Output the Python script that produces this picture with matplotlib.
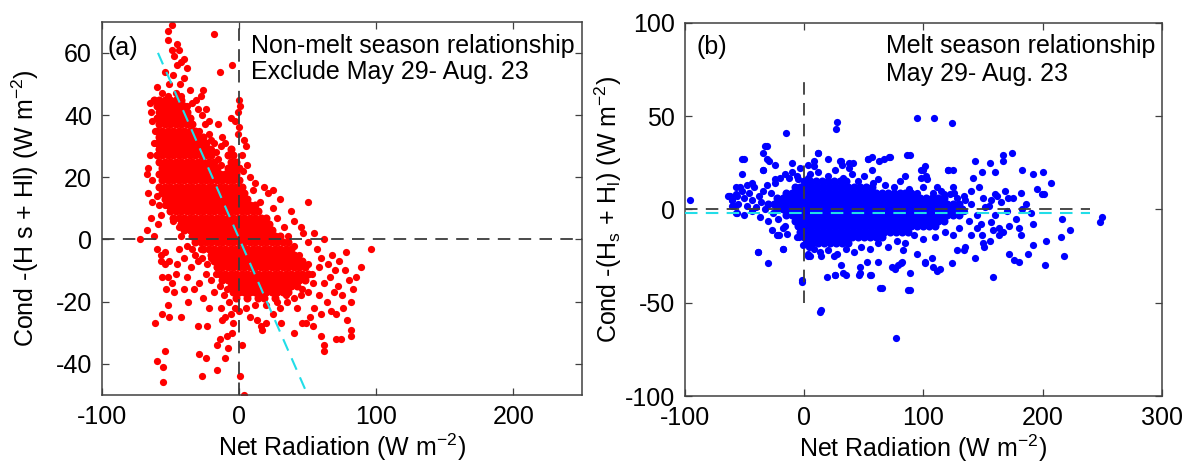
import matplotlib
matplotlib.use('Agg')
import matplotlib.pyplot as plt

plt.rcParams['font.family'] = ['Liberation Sans', 'DejaVu Sans']
plt.rcParams['mathtext.fontset'] = 'custom'
plt.rcParams['mathtext.rm'] = 'Liberation Sans'
plt.rcParams['mathtext.it'] = 'Liberation Sans'
plt.rcParams['lines.scale_dashes'] = False
plt.rcParams['axes.unicode_minus'] = False

# ---------------- panel (a): non-melt season ----------------
# dense core, read row by row (one y per row, x values along the row)
a_core_y = [45, 43, 41, 39, 37, 35, 33, 31, 29, 27, 25, 23, 21, 19, 17, 15, 13,
            11, 9, 7, 5, 3, 1, -1, -3, -5, -7, -9, -11, -13, -15, -17, -19]
a_core_x = [
    [-62, -58, -54, -50, -46, -42],
    [-60, -56, -52, -48, -44, -40],
    [-58, -54, -50, -46, -42, -38],
    [-60, -56, -52, -48, -44, -40, -36],
    [-58, -54, -50, -46, -42, -38, -34],
    [-60, -56, -52, -48, -44, -40, -36, -32],
    [-58, -54, -50, -46, -42, -38, -34, -30, -26],
    [-60, -56, -52, -48, -44, -40, -36, -32, -28, -24],
    [-58, -54, -50, -46, -42, -38, -34, -30, -26, -22, -6],
    [-60, -56, -52, -48, -44, -40, -36, -32, -28, -24, -20, -8, -4],
    [-58, -54, -50, -46, -42, -38, -34, -30, -26, -22, -18, -6, -2],
    [-56, -52, -48, -44, -40, -36, -32, -28, -24, -20, -16, -8, -4, 0],
    [-58, -54, -50, -46, -42, -38, -34, -30, -26, -22, -18, -14, -10, -6, -2],
    [-56, -52, -48, -44, -40, -36, -32, -28, -24, -20, -16, -12, -8, -4, 0],
    [-58, -54, -50, -46, -42, -38, -34, -30, -26, -22, -18, -14, -10, -6, -2, 2],
    [-56, -52, -48, -44, -40, -36, -32, -28, -24, -20, -16, -12, -8, -4, 0, 4],
    [-54, -50, -46, -42, -38, -34, -30, -26, -22, -18, -14, -10, -6, -2, 2, 6],
    [-52, -48, -44, -40, -36, -32, -28, -24, -20, -16, -12, -8, -4, 0, 4, 8, 12],
    [-50, -46, -42, -38, -34, -30, -26, -22, -18, -14, -10, -6, -2, 2, 6, 10, 14],
    [-48, -44, -40, -36, -32, -28, -24, -20, -16, -12, -8, -4, 0, 4, 8, 12, 16, 20],
    [-42, -38, -34, -30, -26, -22, -18, -14, -10, -6, -2, 2, 6, 10, 14, 18, 22],
    [-40, -36, -32, -28, -24, -20, -16, -12, -8, -4, 0, 4, 8, 12, 16, 20, 24],
    [-34, -30, -26, -22, -18, -14, -10, -6, -2, 2, 6, 10, 14, 18, 22, 26, 30],
    [-32, -28, -24, -20, -16, -12, -8, -4, 0, 4, 8, 12, 16, 20, 24, 28, 32, 36],
    [-26, -22, -18, -14, -10, -6, -2, 2, 6, 10, 14, 18, 22, 26, 30, 34, 38],
    [-20, -16, -12, -8, -4, 0, 4, 8, 12, 16, 20, 24, 28, 32, 36, 40],
    [-18, -14, -10, -6, -2, 2, 6, 10, 14, 18, 22, 26, 30, 34, 38, 42, 46],
    [-16, -12, -8, -4, 0, 4, 8, 12, 16, 20, 24, 28, 32, 36, 40, 44, 48],
    [-14, -10, -6, -2, 2, 6, 10, 14, 18, 22, 26, 30, 34, 38, 42, 46, 50],
    [-12, -8, -4, 0, 4, 8, 12, 16, 20, 24, 28, 32, 36, 40, 44, 48],
    [-6, -2, 2, 6, 10, 14, 18, 22, 26, 30, 34, 38, 42],
    [-4, 0, 4, 8, 12, 16, 20, 24, 28, 32, 36],
    [-2, 6, 14, 18, 26],
]

# scattered points around the core
a_out_x = [-49, -52, -18, -52, -45, -49, -44, -47, -40, -42,
           -45, -14, -5, -38, -54, -48, -40, -51, -43, -26,
           -60, -31, -24, -28, -36, -46, -56, -65, -64, -63,
           -61, -62, -65, -66, -67, -63, -66, -60, -58, -63,
           -64, -67, -72, -62, -59, -57, -54, 0, 1, -1,
           -3, 0, -6, -1, -12, -10, -13, 4, 5, 2,
           -29, -33, -18, -20, -15, -22, -38, 18, 25, 21,
           12, 8, 15, 10, 30, 3, 6, -34, -30, -27,
           -25, -22, -20, -17, -15, -13, -52, -48, -56, -42,
           38, 50, 40, 45, 47, 50, 57, 62, 55, 60,
           65, 68, 70, 72, 75, 78, 80, 83, 82, 89,
           96, 76, 71, 67, 64, 58, 62, 55, 52, 79,
           82, 82, 71, 74, 62, 62, 60, 54, 49, 46,
           40, 31, 25, 20, 17, 16, 13, 8, 35, 42,
           45, 30, 2, 1, 4, 25, 28, 33, 36, 40,
           44, 50, 53, 54, 50, 46, 40, 34, 28, 20,
           12, 5, 0, 58, 66, 73, 85, 77, 69, 60,
           -60, -57, -54, -51, -57, -54, -56, -52, -46, -49,
           -53, -47, -40, -37, -52, -56, -61, -51, -42, -30,
           -23, -26, -24, -29, -18, -13, -10, -14, -9, -5,
           -4, -12, -54, -60, -55, -55, -29, -24, -27, -16,
           -16, -10, -8, -44, -40, -35, -32, -28, -20, -16,
           -45, -38, -33, -22, -7, -6, -3, -42, -44, -48,
           -38, -34, -30, -27, -23, -20, -17, -14, -11, -9]
a_out_y = [69, 67, 66, 64, 63, 61, 61, 59, 58, 57,
           56, 54, 56, 55, 54, 53, 52, 50, 50, 48,
           49, 45, 42, 46, 48, 47, 47, 44, 41, 38,
           35, 31, 27, 23, 21, 19, 15, 14, 11, 12,
           7, 3, 0, 1, 5, 8, 11, 45, 43, 41,
           38, 36, 39, 34, 33, 31, 30, 32, 30, 27,
           35, 32, 31, 29, 37, 38, 43, 17, 16, 15,
           18, 20, 12, 16, 13, 22, 24, 44, 42, 40,
           37, 34, 32, 28, 26, 24, 46, 44, 44, 46,
           9, 12, 6, 4, 2, -1, -3, 0, 2, -6,
           -8, -5, -10, -15, -18, -4, -13, -16, -20, -9,
           -3, -22, -24, -23, -20, -18, -14, -22, -25, -26,
           -29, -31, -32, -32, -34, -36, -31, -28, -27, -27,
           -30, -27, -24, -27, -29, -28, -26, -25, -20, -22,
           -18, -22, -34, -44, -50, 10, 7, 4, 1, -2,
           -5, -8, -11, -14, -17, -16, -19, -18, -20, -21,
           -21, -22, -23, -9, -12, -7, -12, -10, -17, -24,
           -3, -5, -4, -7, -7, -8, -12, -12, -11, -14,
           -16, -17, -16, -20, -21, -24, -27, -25, -25, -28,
           -28, -19, -11, -14, -17, -22, -25, -32, -31, -30,
           -27, -26, -36, -39, -41, -46, -37, -38, -44, -42,
           -34, -38, -35, -3, -6, -9, -5, -3, -13, -9,
           -8, -12, -16, -22, -20, -24, -22, 1, 4, 6,
           -2, -3, -7, -6, -8, -6, -11, -15, -18, -16]

a_fit_x = [-59, 50]
a_fit_y = [60, -50]

# ---------------- panel (b): melt season ----------------
b_core_y = [15, 12, 9, 6, 3, 0, -3, -6, -9, -12, -15, -18]
b_core_x = [
    [0, 5, 10, 15, 20, 25, 30, 35],
    [-8, -3, 2, 7, 12, 17, 22, 27, 32, 37, 42, 47, 52, 57],
    [-15, -10, -5, 0, 5, 10, 15, 20, 25, 30, 35, 40, 45, 50, 55, 60, 65, 70, 75,
     80, 85, 90],
    [-23, -18, -13, -8, -3, 2, 7, 12, 17, 22, 27, 32, 37, 42, 47, 52, 57, 62, 67,
     72, 77, 82, 87, 92, 97, 102, 107, 112, 117],
    [-30, -25, -20, -15, -10, -5, 0, 5, 10, 15, 20, 25, 30, 35, 40, 45, 50, 55, 60,
     65, 70, 75, 80, 85, 90, 95, 100, 105, 110, 115, 120, 125, 130],
    [-23, -18, -13, -8, -3, 2, 7, 12, 17, 22, 27, 32, 37, 42, 47, 52, 57, 62, 67,
     72, 77, 82, 87, 92, 97, 102, 107, 112, 117, 122, 127, 132],
    [-15, -10, -5, 0, 5, 10, 15, 20, 25, 30, 35, 40, 45, 50, 55, 60, 65, 70, 75,
     80, 85, 90, 95, 100, 105, 110, 115, 120, 125, 130],
    [-8, -3, 2, 7, 12, 17, 22, 27, 32, 37, 42, 47, 52, 57, 62, 67, 72, 77, 82, 87,
     92, 97, 102, 107, 112, 117],
    [-5, 0, 5, 10, 15, 20, 25, 30, 35, 40, 45, 50, 55, 60, 65, 70, 75, 80, 85, 90,
     95, 100, 105, 110],
    [-3, 2, 7, 12, 17, 22, 27, 32, 37, 42, 47, 52, 57, 62, 67, 72, 77, 82, 87],
    [0, 5, 10, 15, 20, 25, 30, 35, 40, 45, 50, 55, 60, 65],
    [2, 7, 12, 17, 22, 27, 32, 37],
]

b_out_x = [-96, -50, -52, -64, -60, -56, -57, -56, -39, -30,
           -33, -34, -31, -29, -34, -24, -16, -15, -18, -23,
           -2, 13, 28, 27, 12, 3, 3, 31, 38, 54,
           63, 71, 86, 95, 109, 124, 64, 87, 77, 19,
           26, 35, 46, 55, 74, 79, 82, 89, 101, 107,
           111, 124, 128, 134, 143, 149, 158, 151, 156, 158,
           163, 167, 172, 176, 180, 182, 188, 192, 192, 203,
           202, 215, 216, 218, 223, 248, 250, 195, 199, 201,
           207, 200, 192, 183, 174, 167, 167, 156, 160, 149,
           143, 142, 125, 121, 100, 98, 111, 157, 182, 171,
           162, 134, 126, 117, -31, -52, -34, -10, -24, -44,
           -62, -60, -57, -39, -18, -22, -14, -2, 3, -6,
           12, 8, 20, 30, 32, 41, 54, 57, 67, 72,
           89, 98, 101, 102, 121, 4, 5, 13, 25, 26,
           33, 31, 47, 56, 53, 47, 62, 65, 76, 81,
           83, 89, 95, 101, 108, 114, 14,
           -60, -57, -55, -52, -50, -48, -46, -44, -42, -40,
           -38, -36, -34, -33, -31, -28, -26, -24, -22, -20,
           -16, -13, -10, -6, -48, -54, -63, -59, -44, -37,
           -30, -27, -21, -18, -50,
           5, 12, 20, 26, 33, 40, 45, 50, 58, 62,
           68, 75, 80, 88, 95, 100, 108, 115, 122, 128,
           135, 140, -5, -3, 8, 38, 57, 85, 103, 125,
           140, 150, 145, 152, 148, 138, 130, 125, 118, 110,
           100, 92, 85, 78, 70, 62, 55, 48, 42, 35,
           28, 20, 14, 8, 3, -1, -4,
           155, 160, 165, 170, 175, 178, 183, 186, 160, 168,
           147, 157, 172, 163, 150, 140, 135, 180, 190, 145,
           134]
b_out_y = [5, 27, 19, 7, 5, 7, 12, -2, -23, -29,
           34, 30, 27, 26, 21, 24, 19, 41, -21, -14,
           -39, -55, 47, 43, 30, 24, 17, 26, 25, 27,
           26, 28, 29, 49, 49, 46, -42, -43, -69, -36,
           -35, -35, -35, -35, -31, -30, -28, -34, -28, -26,
           -33, -29, -22, -22, -26, -14, -36, -20, -17, -11,
           -10, -12, -24, -27, -28, -14, -24, -19, -8, -17,
           -30, -15, -5, -25, -11, -7, -4, 11, 8, 8,
           14, 20, 19, 21, 30, 29, 26, 25, 20, 20,
           26, 17, 21, 21, 21, 17, 12, 5, 9, 6,
           7, 7, 9, 8, 34, 27, 21, 25, 16, 14,
           7, 2, -2, -23, -21, -14, -13, -38, -25, -15,
           30, 26, 27, 26, 24, 25, 27, 28, 27, 28,
           29, 21, 23, 18, 21, -20, -25, -23, -25, -35,
           -34, -30, -34, -35, -28, -31, -28, -42, -32, -29,
           -22, -43, -24, -29, -31, -32, -54,
           5, 8, 3, 10, 6, 2, 9, 5, 12, 1,
           7, 4, 10, 0, 13, 9, -2, 14, -5, 17,
           -9, 17, 20, 18, 13, 12, 7, 2, -1, -4,
           -6, -11, -14, -10, -3,
           19, 20, 18, 21, 17, 19, 15, 18, 14, 16,
           13, 12, 15, 11, 9, 12, 9, 10, 8, 6,
           5, 3, 16, 22, 23, 22, 21, 18, 16, 12,
           10, 6, -3, 1, -8, -6, -10, -14, -12, -15,
           -16, -14, -18, -17, -20, -18, -21, -20, -23, -21,
           -24, -22, -25, -21, -24, -19, -15,
           2, -3, 4, -1, 6, -5, 0, 3, 8, 10,
           12, -7, -9, -14, -18, -14, -20, -10, -2, -10,
           -1]

b_fit_x = [-100, 240]
b_fit_y = [-2, -2]


def flatten(rows_y, rows_x):
    xs, ys = [], []
    for y, row in zip(rows_y, rows_x):
        for x in row:
            xs.append(x)
            ys.append(y)
    return xs, ys


FS = 18
dash_k = dict(color='#3c3c3c', lw=1.3, dashes=(9, 6), zorder=4)
dot = dict(ls='none', marker='o', ms=5.2, mew=0, zorder=2)
core_dot = dict(ls='none', marker='o', ms=5.8, mew=0, zorder=2)

fig = plt.figure(figsize=(11.95, 4.68), dpi=100)
ax1 = fig.add_axes([0.0851, 0.1564, 0.402, 0.797])
ax2 = fig.add_axes([0.573, 0.1538, 0.3994, 0.7977])

# panel a
cx, cy = flatten(a_core_y, a_core_x)
ax1.plot(cx, cy, color='#ff0000', **core_dot)
ax1.plot(a_out_x, a_out_y, color='#ff0000', **dot)
ax1.plot([-100, 250], [0, 0], **dash_k)
ax1.plot([0, 0], [-50, 70], **dash_k)
ax1.plot(a_fit_x, a_fit_y, color='#22dde8', lw=1.5, dashes=(9, 6), zorder=5)
ax1.set_xlim(-100, 250)
ax1.set_ylim(-50, 70)
ax1.set_xticks([-100, 0, 100, 200])
ax1.set_yticks([-40, -20, 0, 20, 40, 60])
ax1.text(-96, 61.5, '(a)', fontsize=FS, va='center', ha='left')
ax1.text(8.5, 60, 'Non-melt season relationship', fontsize=FS, va='baseline')
ax1.text(8.5, 51.5, 'Exclude May 29- Aug. 23', fontsize=FS, va='baseline')
ax1.set_ylabel(r'Cond -(H s + Hl) (W m$\mathregular{^{-2}}$)', fontsize=FS)
ax1.set_xlabel(r'Net Radiation (W m$\mathregular{^{-2}}$)', fontsize=FS)

# panel b
cx, cy = flatten(b_core_y, b_core_x)
ax2.plot(cx, cy, color='#0000ff', **core_dot)
ax2.plot(b_out_x, b_out_y, color='#0000ff', **dot)
ax2.plot([-100, 240], [0, 0], **dash_k)
ax2.plot([0, 0], [-50, 70], **dash_k)
ax2.plot(b_fit_x, b_fit_y, color='#22dde8', lw=1.5, dashes=(9, 6), zorder=3)
ax2.set_xlim(-100, 300)
ax2.set_ylim(-100, 100)
ax2.set_xticks([-100, 0, 100, 200, 300])
ax2.set_yticks([-100, -50, 0, 50, 100])
ax2.text(-90, 87, '(b)', fontsize=FS, va='center', ha='left')
ax2.text(68.5, 83.5, 'Melt season relationship', fontsize=FS, va='baseline')
ax2.text(68.5, 69, 'May 29- Aug. 23', fontsize=FS, va='baseline')
ax2.set_ylabel(r'Cond -(H$\mathregular{_s}$ + H$\mathregular{_l}$) (W m$\mathregular{^{-2}}$)',
               fontsize=FS)
ax2.set_xlabel(r'Net Radiation (W m$\mathregular{^{-2}}$)', fontsize=FS)

for ax in (ax1, ax2):
    ax.tick_params(direction='in', top=True, right=True, length=5, width=0.9,
                   color='#404040', labelsize=FS, pad=7)
    for s in ax.spines.values():
        s.set_color('#404040')
        s.set_linewidth(1.1)
    ax.yaxis.set_label_coords(-0.127, 0.5)
    ax.xaxis.labelpad = 2

fig.savefig('out.png', dpi=100)
